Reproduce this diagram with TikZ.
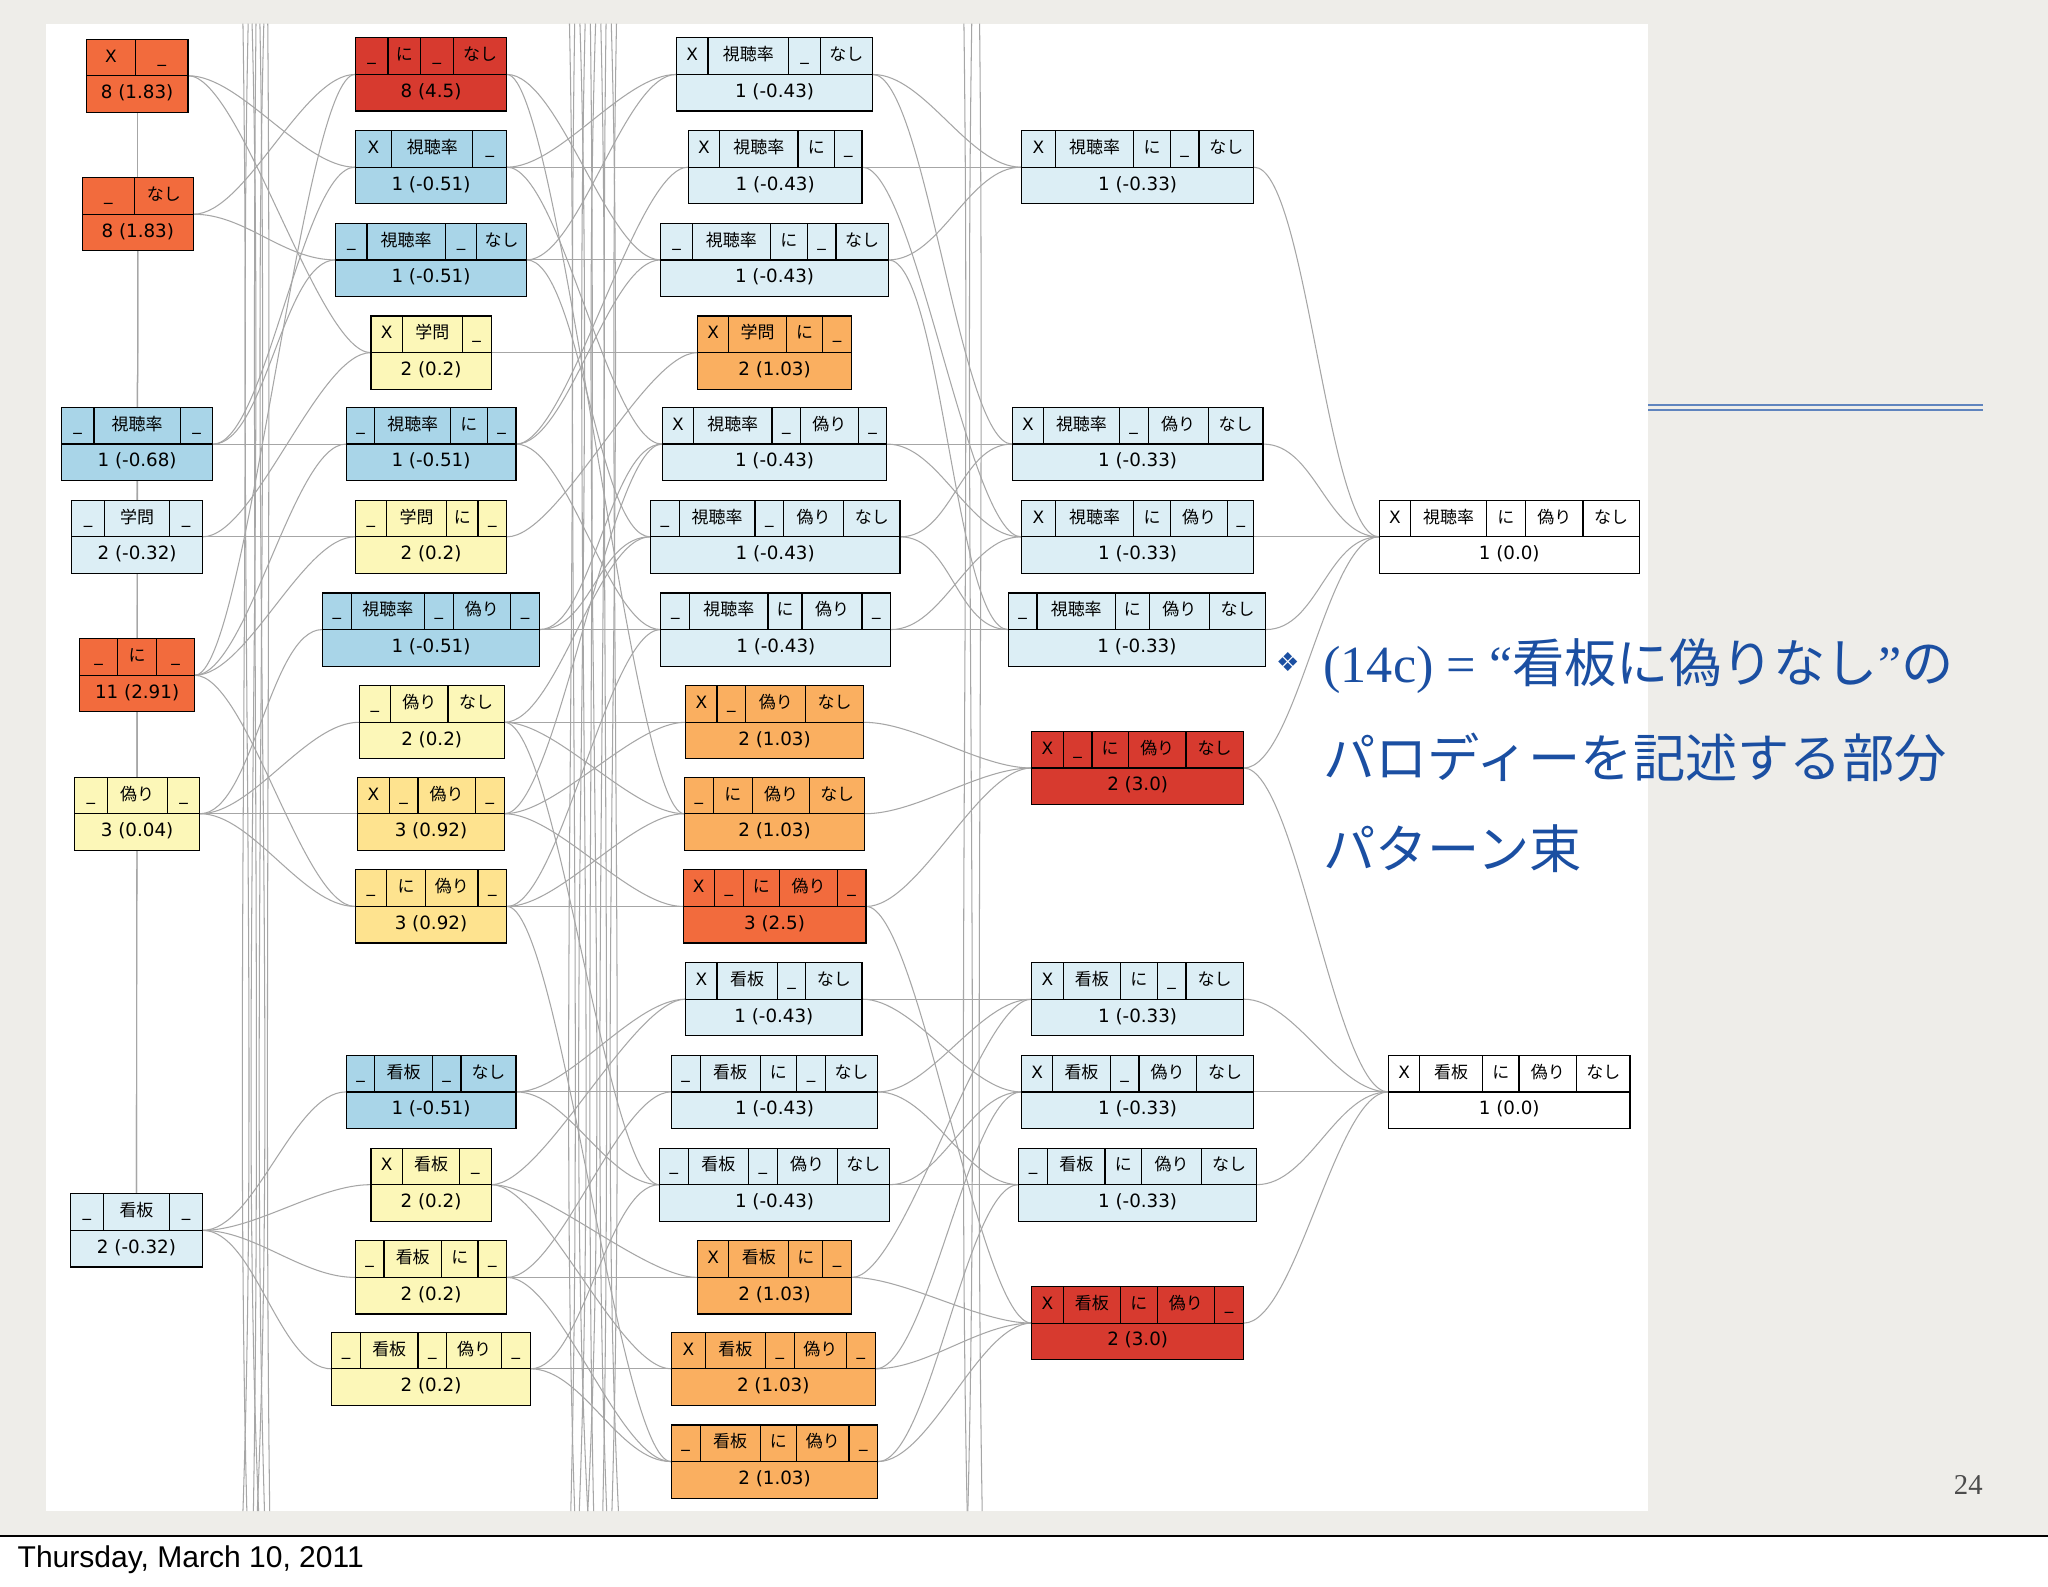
\documentclass[tikz,border=0pt]{standalone}
\usepackage{fontspec}
\setmainfont{Noto Sans CJK JP}
\newfontfamily\dvs{DejaVu Sans}
\newfontfamily\lsans{Liberation Sans}
\newfontfamily\lserif{Liberation Serif}
\newcommand\us{{\dvs\char`\_}}
\newcommand\xx{{\dvs X}}
\pgfdeclarelayer{bg}\pgfdeclarelayer{background}\pgfsetlayers{bg,background,main}
\definecolor{lb}{HTML}{DCEEF5}
\definecolor{bl}{HTML}{A9D5E8}
\definecolor{ly}{HTML}{FCF7B8}
\definecolor{yo}{HTML}{FEE38F}
\definecolor{or}{HTML}{FAAF60}
\definecolor{orr}{HTML}{F26B3D}
\definecolor{rd}{HTML}{D73A2F}
\definecolor{wh}{HTML}{FFFFFF}
\definecolor{slidebg}{HTML}{EEEDE9}
\definecolor{slideblue}{HTML}{1B4FA2}
\tikzset{cell/.style={draw=black,line width=0.9pt,inner sep=0pt,minimum height=28pt,text height=10pt,text depth=3pt,font=\fontsize{13}{14}\selectfont},
 edge/.style={draw=black!35,line width=0.8pt}}
\newcommand\pat[6]{\begin{scope}[shift={(#2,#3)}]
\gdef\cx{0}
\foreach \t/\w in {#5}{\node[cell,fill=#4,minimum width=\w pt] at (\cx+\w/2,14) {\t};\pgfmathsetmacro\tmp{\cx+\w}\xdef\cx{\tmp}}
\node[cell,fill=#4,minimum width=\cx pt,font=\dvs\fontsize{14}{15}\selectfont] at (\cx/2,42) {#6};
\node[inner sep=0pt,minimum width=\cx pt,minimum height=56pt] (#1) at (\cx/2,28) {};
\end{scope}}
\begin{document}
\begin{tikzpicture}[x=1pt,y=-1pt]
\useasboundingbox (0,0) rectangle (1568,1215);
\begin{pgfonlayer}{bg}
\fill[white] (0,0) rectangle (1568,1215);
\fill[slidebg] (0,0) rectangle (1568,1176);
\fill[white] (35,18) rectangle (1262,1157);
\draw[black,line width=1pt] (0,1176) -- (1568,1176);
\end{pgfonlayer}
% column 1
\pat{n1}{66}{30}{orr}{\xx/38,\us/40}{8 (1.83)}
\pat{n2}{63}{136}{orr}{\us/40,なし/45}{8 (1.83)}
\pat{n3}{47}{312}{bl}{\us/25,視聴率/66,\us/25}{1 (-0.68)}
\pat{n4}{55}{383}{lb}{\us/25,学問/50,\us/25}{2 (-0.32)}
\pat{n5}{61}{489}{orr}{\us/29,に/30,\us/29}{11 (2.91)}
\pat{n6}{57}{595}{ly}{\us/25,偽り/46,\us/25}{3 (0.04)}
\pat{n7}{54}{914}{lb}{\us/25,看板/51,\us/25}{2 (-0.32)}
% column 2
\pat{n8}{272}{29}{rd}{\us/25,に/25,\us/25,なし/41}{8 (4.5)}
\pat{n9}{272}{100}{bl}{\xx/28,視聴率/62,\us/26}{1 (-0.51)}
\pat{n10}{257}{171}{bl}{\us/24,視聴率/60,\us/24,なし/38}{1 (-0.51)}
\pat{n11}{284}{242}{ly}{\xx/24,学問/46,\us/22}{2 (0.2)}
\pat{n12}{265}{312}{bl}{\us/22,視聴率/58,に/28,\us/22}{1 (-0.51)}
\pat{n13}{272}{383}{ly}{\us/24,学問/46,に/24,\us/22}{2 (0.2)}
\pat{n14}{247}{454}{bl}{\us/22,視聴率/56,\us/22,偽り/44,\us/22}{1 (-0.51)}
\pat{n15}{275}{525}{ly}{\us/24,偽り/44,なし/43}{2 (0.2)}
\pat{n16}{274}{595}{yo}{\xx/24,\us/22,偽り/44,\us/22}{3 (0.92)}
\pat{n17}{272}{666}{yo}{\us/24,に/30,偽り/40,\us/22}{3 (0.92)}
\pat{n18}{265}{808}{bl}{\us/22,看板/44,\us/22,なし/42}{1 (-0.51)}
\pat{n19}{284}{879}{ly}{\xx/24,看板/44,\us/24}{2 (0.2)}
\pat{n20}{272}{950}{ly}{\us/22,看板/44,に/28,\us/22}{2 (0.2)}
\pat{n21}{254}{1020}{ly}{\us/22,看板/44,\us/22,偽り/42,\us/22}{2 (0.2)}
% column 3
\pat{n22}{518}{29}{lb}{\xx/24,視聴率/62,\us/24,なし/40}{1 (-0.43)}
\pat{n23}{527}{100}{lb}{\xx/24,視聴率/60,に/28,\us/21}{1 (-0.43)}
\pat{n24}{506}{171}{lb}{\us/24,視聴率/60,に/28,\us/22,なし/40}{1 (-0.43)}
\pat{n25}{534}{242}{or}{\xx/24,学問/44,に/28,\us/22}{2 (1.03)}
\pat{n26}{507}{312}{lb}{\xx/24,視聴率/60,\us/22,偽り/44,\us/22}{1 (-0.43)}
\pat{n27}{498}{383}{lb}{\us/22,視聴率/58,\us/22,偽り/46,なし/43}{1 (-0.43)}
\pat{n28}{506}{454}{lb}{\us/22,視聴率/60,に/26,偽り/46,\us/22}{1 (-0.43)}
\pat{n29}{525}{525}{or}{\xx/24,\us/22,偽り/46,なし/44}{2 (1.03)}
\pat{n30}{524}{595}{or}{\us/22,に/30,偽り/44,なし/42}{2 (1.03)}
\pat{n31}{523}{666}{orr}{\xx/24,\us/22,に/28,偽り/44,\us/22}{3 (2.5)}
\pat{n32}{525}{737}{lb}{\xx/24,看板/46,\us/22,なし/43}{1 (-0.43)}
\pat{n33}{514}{808}{lb}{\us/22,看板/46,に/28,\us/22,なし/40}{1 (-0.43)}
\pat{n34}{505}{879}{lb}{\us/22,看板/46,\us/22,偽り/46,なし/40}{1 (-0.43)}
\pat{n35}{534}{950}{or}{\xx/24,看板/46,に/26,\us/22}{2 (1.03)}
\pat{n36}{514}{1020}{or}{\xx/26,看板/46,\us/22,偽り/40,\us/22}{2 (1.03)}
\pat{n37}{514}{1091}{or}{\us/22,看板/46,に/28,偽り/40,\us/22}{2 (1.03)}
% column 4
\pat{n38}{782}{100}{lb}{\xx/26,視聴率/60,に/28,\us/22,なし/42}{1 (-0.33)}
\pat{n39}{775}{312}{lb}{\xx/24,視聴率/58,\us/22,偽り/46,なし/42}{1 (-0.33)}
\pat{n40}{782}{383}{lb}{\xx/26,視聴率/60,に/28,偽り/44,\us/20}{1 (-0.33)}
\pat{n41}{772}{454}{lb}{\us/22,視聴率/60,に/26,偽り/46,なし/43}{1 (-0.33)}
\pat{n42}{790}{560}{rd}{\xx/24,\us/22,に/28,偽り/44,なし/44}{2 (3.0)}
\pat{n43}{790}{737}{lb}{\xx/24,看板/44,に/28,\us/22,なし/44}{1 (-0.33)}
\pat{n44}{782}{808}{lb}{\xx/24,看板/44,\us/22,偽り/44,なし/44}{1 (-0.33)}
\pat{n45}{780}{879}{lb}{\us/22,看板/44,に/28,偽り/46,なし/42}{1 (-0.33)}
\pat{n46}{790}{985}{rd}{\xx/24,看板/44,に/28,偽り/44,\us/22}{2 (3.0)}
% column 5
\pat{n47}{1056}{383}{wh}{\xx/24,視聴率/58,に/30,偽り/44,なし/43}{1 (0.0)}
\pat{n48}{1063}{808}{wh}{\xx/24,看板/48,に/28,偽り/44,なし/41}{1 (0.0)}
% edges
\begin{pgfonlayer}{background}
\foreach \a/\b in {1/9,1/11,2/10,2/8,3/9,3/10,3/12,4/11,4/13,5/8,5/12,5/13,5/17,6/14,6/15,6/16,6/17,7/18,7/19,7/20,7/21,
8/24,8/30,9/22,9/23,9/26,10/22,10/24,10/27,11/25,12/23,12/24,12/28,13/25,14/26,14/27,14/28,15/27,15/29,15/30,15/34,16/29,16/31,16/26,17/28,17/30,17/31,17/37,
18/32,18/33,18/34,19/32,19/35,19/36,20/33,20/35,20/37,21/34,21/36,21/37,
22/38,22/39,23/38,23/40,24/38,24/41,26/39,26/40,27/39,27/41,28/40,28/41,29/42,30/42,31/42,31/46,
32/43,32/44,33/43,33/45,34/44,34/45,35/43,35/46,36/44,36/46,37/45,37/46,
38/47,39/47,40/47,41/47,42/47,42/48,43/48,44/48,45/48,46/48}
 {\draw[edge] (n\a.east) .. controls ([xshift=40pt]n\a.east) and ([xshift=-40pt]n\b.west) .. (n\b.west);}
\foreach \x/\d in {186/6,190/-8,193/10,196/-4,199/7,202/-10,205/3,
 436/8,440/-6,444/12,448/-9,452/5,456/-12,460/9,464/-5,468/11,472/-7,
 738/5,744/-6,750/4}
 {\draw[edge] (\x,18) .. controls (\x+\d,400) and (\x-\d,800) .. (\x+\d/2,1157);}
\foreach \a/\b in {1/5,2/6,3/7,4/6,5/7,1/3,2/4}
 {\draw[edge] (n\a.south) .. controls ([yshift=-200pt]n\a.south) and ([yshift=200pt]n\b.north) .. (n\b.north);}
\end{pgfonlayer}
% slide decorations
\draw[slideblue!70,line width=1pt] (1262,310) -- (1518,310) (1262,314) -- (1518,314);
\node[font=\dvs\fontsize{20}{22}\selectfont,text=slideblue] (bul) at (986,507) {❖};
\begin{scope}[every node/.style={anchor=west,text=slideblue,inner sep=0pt,font=\fontsize{40}{42}\selectfont}]
\node (t1) at (1013,510) {{\lserif (14c) = “}看板に偽りなし{\lserif ”}の};
\node (t2) at (1013,580) {パロディーを記述する部分};
\node (t3) at (1013,650) {パターン束};
\end{scope}
\node[font=\lserif\fontsize{22}{24}\selectfont,text=black!70] (pg) at (1507,1137) {24};
\node[anchor=west,font=\lsans\fontsize{23}{26}\selectfont] (date) at (10,1194) {Thursday, March 10, 2011};
\end{tikzpicture}
\end{document}
